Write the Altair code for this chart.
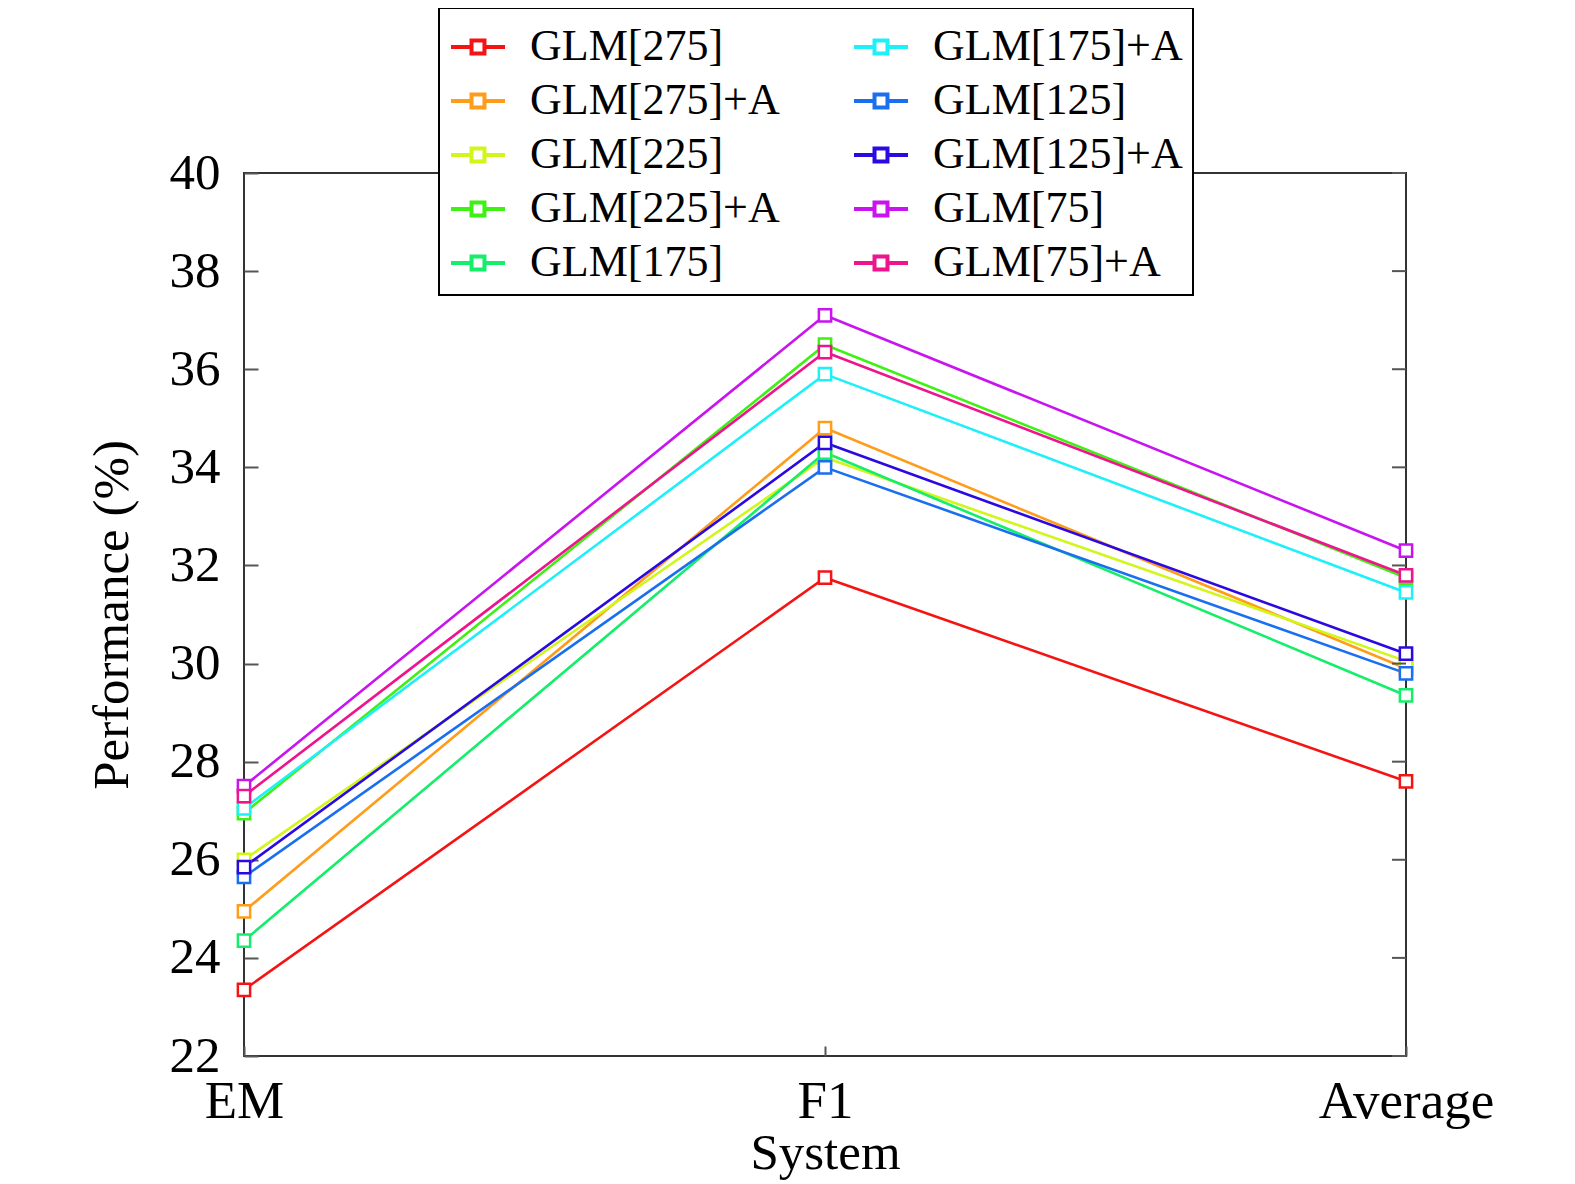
import altair as alt
import pandas as pd

systems = ["EM", "F1", "Average"]
models = ["GLM[275]", "GLM[275]+A", "GLM[225]", "GLM[225]+A", "GLM[175]",
          "GLM[175]+A", "GLM[125]", "GLM[125]+A", "GLM[75]", "GLM[75]+A"]
colors = ["#f41414", "#ff9c1a", "#d2f51a", "#3ef014", "#14ee6a",
          "#1ef0f8", "#1a6ef0", "#2a0ae0", "#c814ee", "#ee148c"]
em_vals = [23.35, 24.95, 26.0, 26.95, 24.35, 27.05, 25.65, 25.85, 27.5, 27.3]
f1_vals = [31.75, 34.8, 34.2, 36.5, 34.3, 35.9, 34.0, 34.5, 37.1, 36.35]
avg_vals = [27.6, 29.9, 30.05, 31.75, 29.35, 31.45, 29.8, 30.2, 32.3, 31.8]
y_ticks = [22, 24, 26, 28, 30, 32, 34, 36, 38, 40]

rows = []
for i, m in enumerate(models):
    for s, v in zip(systems, [em_vals[i], f1_vals[i], avg_vals[i]]):
        rows.append({"model": m, "system": s, "value": v, "order": i})
df = pd.DataFrame(rows)

W, H = 1162, 883
FONT = "Liberation Serif"

sym_path = "M-1,0H-0.24M0.24,0H1M-0.24,-0.24H0.24V0.24H-0.24Z"

lines = alt.Chart(df).mark_line(
    strokeWidth=2.6,
    point=alt.OverlayMarkDef(shape="square", filled=False, fill="white",
                             size=150, strokeWidth=2.5),
).encode(
    x=alt.X("system:N", sort=systems, scale=alt.Scale(type="point", padding=0),
            axis=alt.Axis(title="System", labelAngle=0, offset=-10, tickSize=10,
                          domain=False, labelPadding=19, tickColor="#555",
                          tickWidth=2, titlePadding=0, labelFontSize=53)),
    y=alt.Y("value:Q", scale=alt.Scale(domain=[22, 40], nice=False, zero=False),
            axis=alt.Axis(title="Performance (%)", values=y_ticks, offset=-14,
                          tickSize=14, domain=False, grid=False, labelPadding=24,
                          tickColor="#555", tickWidth=2, titlePadding=31)),
    color=alt.Color("model:N", scale=alt.Scale(domain=models, range=colors),
                    legend=alt.Legend(title=None, orient="none", legendX=195,
                                      legendY=-165, columns=2, direction="vertical",
                                      symbolType=sym_path, symbolSize=2916,
                                      symbolStrokeWidth=4, symbolFillColor="white",
                                      labelFont=FONT, labelFontSize=44,
                                      labelColor="black", labelOffset=23,
                                      labelLimit=400, rowPadding=3,
                                      columnPadding=66, padding=10,
                                      strokeColor="black", fillColor="white",
                                      symbolOpacity=1)),
    order=alt.Order("order:Q"),
    detail="model:N",
)

tick_df = pd.DataFrame({"t": y_ticks})
right_ticks = alt.Chart(tick_df).mark_rule(color="#555", strokeWidth=2).encode(
    y=alt.Y("t:Q", scale=alt.Scale(domain=[22, 40], nice=False, zero=False)),
    x=alt.value(W - 14),
    x2=alt.value(W),
)

chart = alt.layer(lines, right_ticks).properties(
    width=W, height=H,
    autosize=alt.AutoSizeParams(type="none"),
    padding={"left": 236, "top": 165, "right": 140, "bottom": 125},
    background="white",
).configure_view(
    stroke="#333", strokeWidth=2,
).configure_axis(
    labelFont=FONT, labelFontSize=51, labelColor="black",
    titleFont=FONT, titleFontSize=51, titleColor="black", titleFontWeight="normal",
).configure_legend(
    strokeWidth=2,
)

chart.save("out.html", embed_options={"renderer": "svg", "actions": False})
